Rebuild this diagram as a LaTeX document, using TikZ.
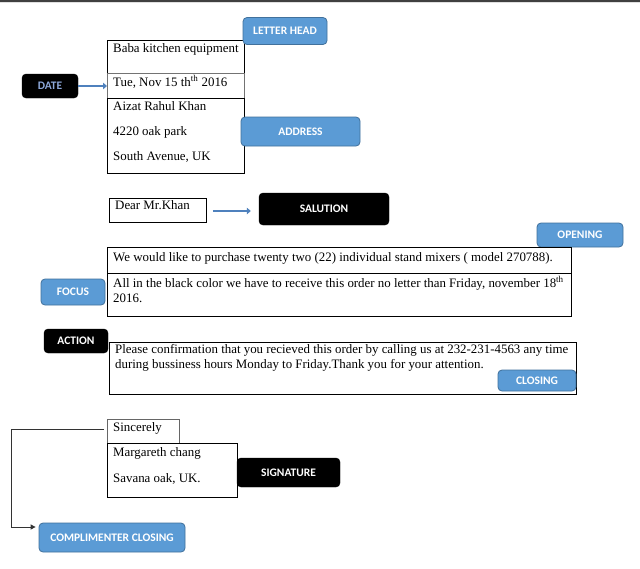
\documentclass[tikz,border=0pt]{standalone}
\usepackage{fontspec}
\setmainfont{Liberation Serif}
\newfontfamily\lblfont{Carlito}
\usetikzlibrary{arrows.meta}
\definecolor{lblue}{HTML}{5B9BD5}
\definecolor{lbord}{HTML}{41719C}
\definecolor{arrblue}{HTML}{4F81BD}
\definecolor{datetxt}{HTML}{8EA9DB}
\tikzset{
  bluelbl/.style={draw=lbord, fill=lblue, rounded corners=4pt, line width=0.8pt, text=white, font=\lblfont\bfseries\fontsize{11.5}{13}\selectfont, inner sep=0pt},
  blacklbl/.style={draw=black, fill=black, rounded corners=4pt, text=white, font=\lblfont\bfseries\fontsize{11.5}{13}\selectfont, inner sep=0pt},
  letterbox/.style={draw=black, line width=0.8pt, inner sep=0pt, anchor=north west},
  ltxt/.style={anchor=base west, inner sep=0pt, font=\fontsize{12.9}{15}\selectfont},
  bluearrow/.style={draw=arrblue, line width=2.4pt, -{Triangle[length=4pt,width=6.5pt]}},
}
\begin{document}
\begin{tikzpicture}[x=1pt,y=-1pt]
\useasboundingbox (0,0) rectangle (640,568);
\fill[white] (0,0) rectangle (640,568);
% top bar
\fill[black!75] (0,0) rectangle (640,1.6);
\fill[black!12] (0,1.6) rectangle (640,3.2);

% letter head block
\node[letterbox, minimum width=137pt, minimum height=33pt] (lhbox) at (107,40) {};
\node[letterbox, draw=black!55, minimum width=137pt, minimum height=25pt] (datebox) at (107,73) {};
\node[letterbox, minimum width=137pt, minimum height=75pt] (addrbox) at (107,98) {};
\node[ltxt] (t1) at (113,52) {Baba kitchen equipment};
\node[ltxt] (t2) at (113,86) {Tue, Nov 15 th\textsuperscript{th} 2016};
\node[ltxt] (t3) at (113,110) {Aizat Rahul Khan};
\node[ltxt] (t4) at (113,135) {4220 oak park};
\node[ltxt] (t5) at (113,160) {South Avenue, UK};

\node[bluelbl, minimum width=84pt, minimum height=27pt] (letterhead) at (285,31) {LETTER HEAD};
\node[bluelbl, minimum width=119pt, minimum height=29pt] (address) at (300.5,131.5) {ADDRESS};
\node[blacklbl, text=datetxt, minimum width=56pt, minimum height=24pt] (date) at (50,86) {DATE};
\draw[bluearrow] (date.east) -- (datebox.west |- date.east) coordinate (dtip);

% salutation
\node[letterbox, minimum width=97pt, minimum height=24pt] (dearbox) at (109,198) {};
\node[ltxt] (t6) at (115,209) {Dear Mr.Khan};
\node[blacklbl, minimum width=130pt, minimum height=32pt] (salution) at (324,209) {SALUTION};
\draw[bluearrow] ([xshift=6pt]dearbox.east |- 0,211) -- ([xshift=-8pt]salution.west |- 0,211);

% opening / focus
\node[bluelbl, minimum width=86pt, minimum height=24pt] (opening) at (580,235) {OPENING};
\node[letterbox, minimum width=464pt, minimum height=26pt] (openbox) at (107,247) {};
\node[letterbox, minimum width=464pt, minimum height=43pt] (focusbox) at (107,273) {};
\node[ltxt] (t7) at (113,261) {We would like to purchase twenty two (22) individual stand mixers ( model 270788).};
\node[ltxt] (t8) at (113,287) {All in the black color we have to receive this order no letter than Friday, november 18\textsuperscript{th}};
\node[ltxt] (t9) at (113,302) {2016.};
\node[bluelbl, minimum width=64pt, minimum height=26pt] (focus) at (73,292) {FOCUS};

% action
\node[letterbox, minimum width=467pt, minimum height=52pt] (actbox) at (109,342) {};
\node[ltxt] (t10) at (115,353) {Please confirmation that you recieved this order by calling us at 232-231-4563 any time};
\node[ltxt] (t11) at (115,368) {during bussiness hours Monday to Friday.Thank you for your attention.};
\node[blacklbl, minimum width=64pt, minimum height=24pt] (action) at (76,341) {ACTION};
\node[bluelbl, minimum width=78pt, minimum height=21pt] (closing) at (537,380.5) {CLOSING};

% closing block
\node[letterbox, draw=black!60, minimum width=72pt, minimum height=24pt] (sinbox) at (107,419) {};
\node[letterbox, minimum width=130pt, minimum height=54pt] (sigbox) at (107,443) {};
\node[ltxt] (t12) at (113,431) {Sincerely};
\node[ltxt] (t13) at (113,456) {Margareth chang};
\node[ltxt] (t14) at (113,482) {Savana oak, UK.};
\node[blacklbl, minimum width=103pt, minimum height=29pt] (signature) at (288.5,472.5) {SIGNATURE};
\node[bluelbl, minimum width=146pt, minimum height=29pt] (compclosing) at (112,537.5) {COMPLIMENTER CLOSING};
\draw[black!80, line width=1pt, -{Triangle[length=5pt,width=5pt]}, shorten <=3pt, shorten >=3pt]
  (sinbox.west |- 0,429) -| (11,527) -- (compclosing.west |- 0,527);
\end{tikzpicture}
\end{document}
